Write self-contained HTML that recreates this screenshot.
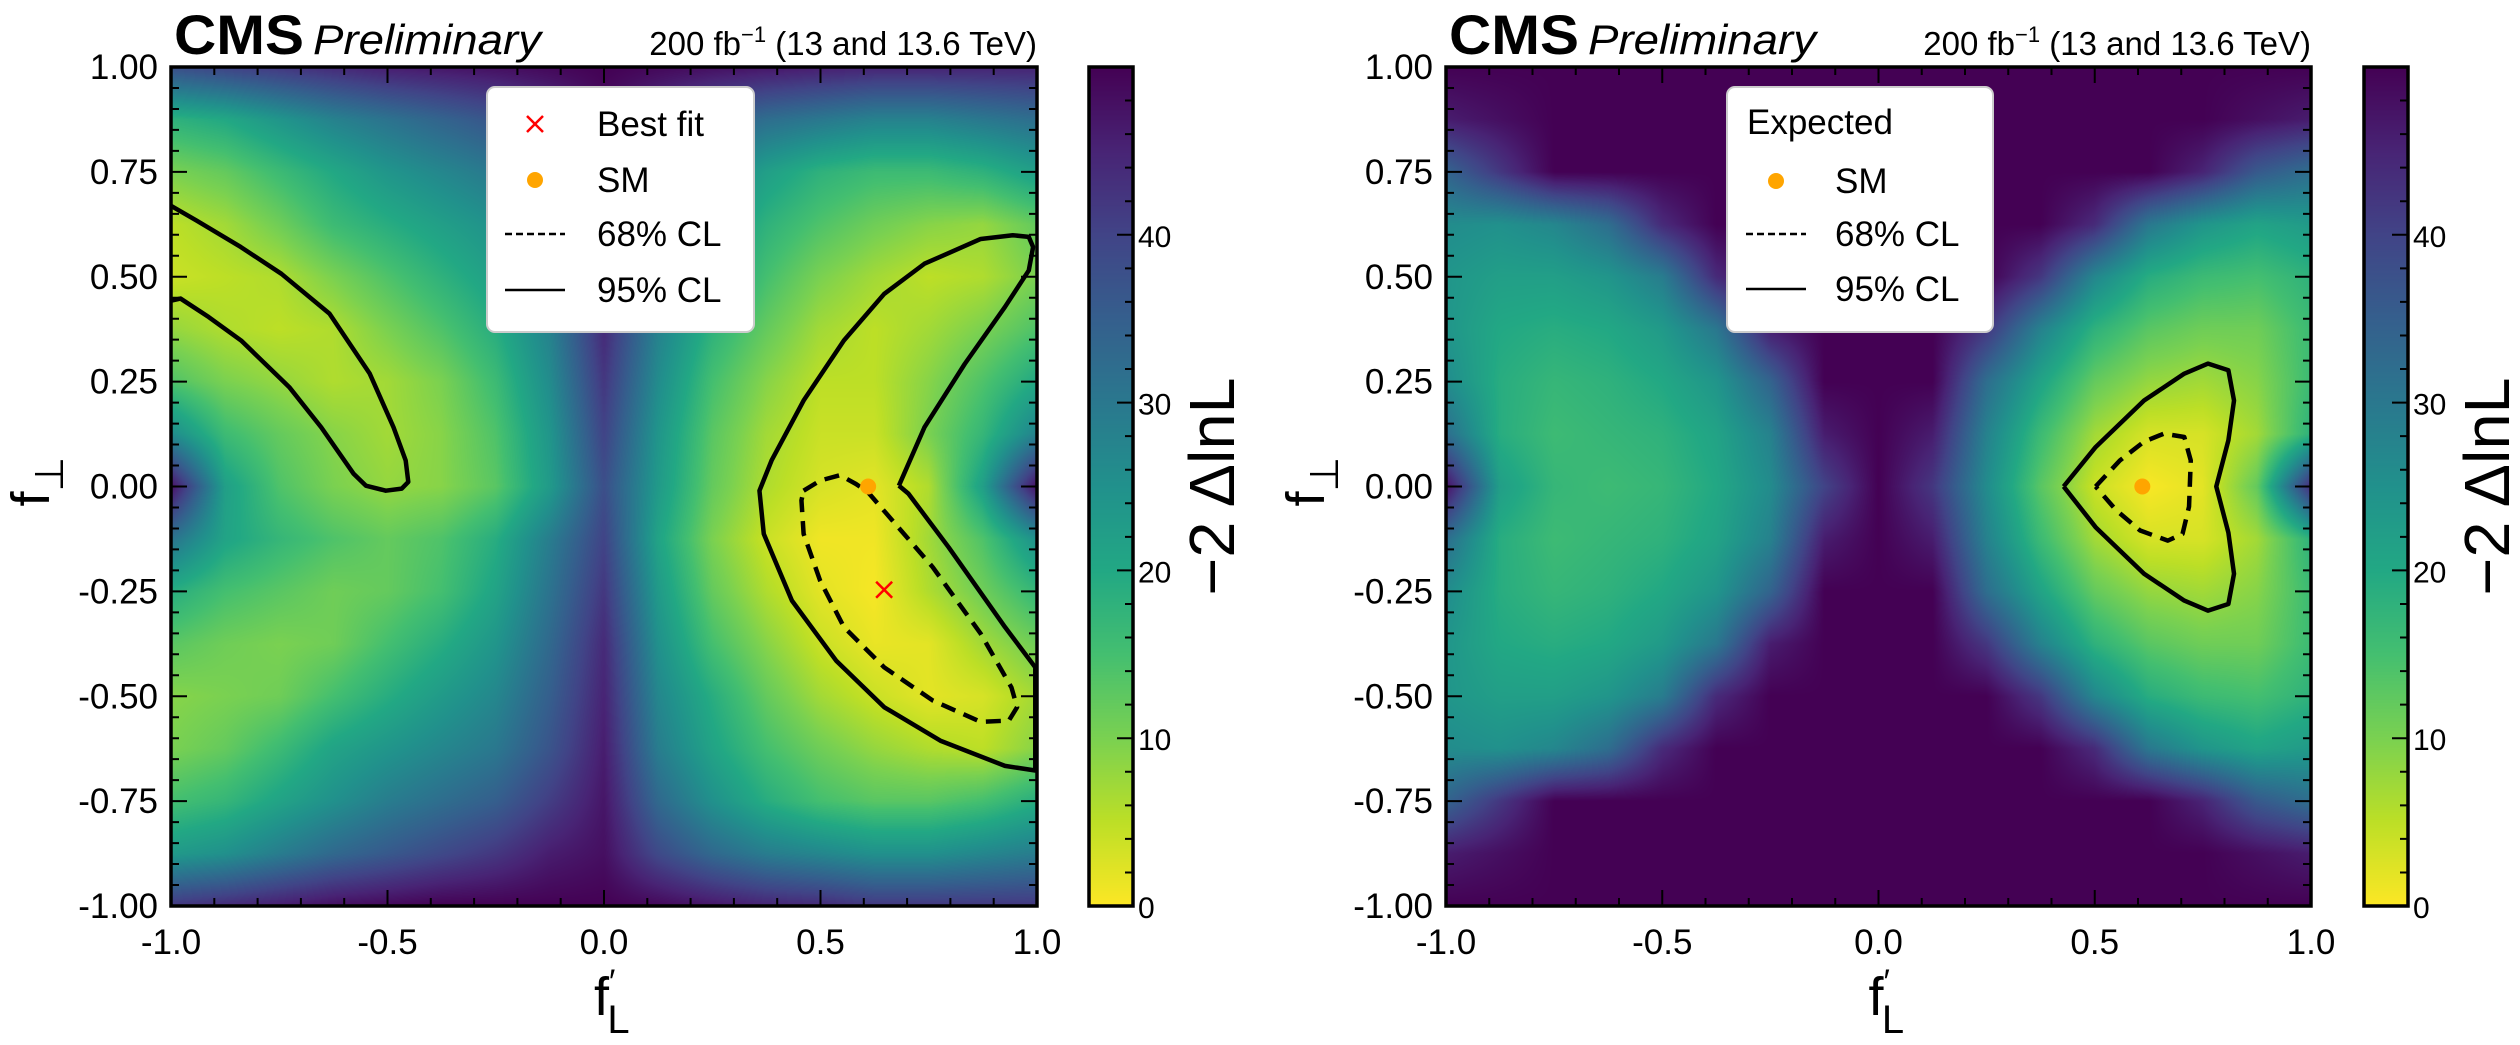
<!DOCTYPE html>
<html><head><meta charset="utf-8">
<style>
html,body{margin:0;padding:0;background:#fff;}
#wrap{position:relative;width:2520px;height:1045px;overflow:hidden;}
canvas{position:absolute;}
svg{position:absolute;left:0;top:0;}
text{font-family:"Liberation Sans",sans-serif;fill:#000;}
</style></head>
<body>
<div id="wrap">
<canvas id="heatL" style="left:171px;top:67px" width="866" height="839"></canvas>
<canvas id="heatR" style="left:1446px;top:67px" width="865" height="839"></canvas>
<canvas id="cbL" style="left:1089px;top:67px" width="44" height="839"></canvas>
<canvas id="cbR" style="left:2364px;top:67px" width="44" height="839"></canvas>
<svg id="ov" width="2520" height="1045"></svg>
</div>
<script>
// ---- data ----
const gridX = [-1,-0.875,-0.75,-0.625,-0.5,-0.375,-0.25,-0.125,0,0.125,0.25,0.375,0.5,0.625,0.75,0.875,1];
const gridY = [1,0.875,0.75,0.625,0.5,0.375,0.25,0.125,0,-0.125,-0.25,-0.375,-0.5,-0.625,-0.75,-0.875,-1];
const obsValues = [
[38,40,42,44,46,47,48,49,50,49,48,47,46,45,45,45,45],
[18,20,24,28,31,34,37,42,48,42,36,32,30,28,28,30,32],
[10,12,16,20,24,27,30,36,47,36,28,22,18,16,16,18,22],
[5,7,11,16,19,22,25,32,46,32,24,18,14,11,9,8,12],
[4,5,6,10,14,18,22,30,45,30,22,15,10,7,5,6,10],
[8,6,5,6,10,14,19,28,44,28,18,12,7,5,7,10,14],
[14,10,8,6,7,10,16,26,42,26,15,9,5,5,9,14,20],
[26,16,12,9,7,9,14,24,40,24,13,7,4,4,10,17,28],
[48,22,14,10,8,9,13,23,38,23,12,6,3,2,6,22,48],
[31,21,17,14,12,14,19,29,40,21,10,4,1,1,7,14,25],
[19,15,13,11,12,15,21,31,42,23,12,6,2,0.5,6,11,17],
[13,11,10,11,15,19,24,33,44,25,15,9,4,1.5,2,7,11],
[9,10,11,15,19,23,27,35,45,27,19,12,7,4,2,3,7],
[10,12,16,21,24,27,30,37,46,29,21,15,11,8,6,5,9],
[15,17,21,25,29,32,35,41,47,33,25,19,15,13,13,15,19],
[23,25,29,33,36,39,42,46,48,39,33,29,27,25,25,27,29],
[42,44,46,48,49,50,50,50,50,49,47,45,44,42,42,42,42]];
const expValues = [
[50,50,50,50,50,50,50,50,50,50,50,50,50,50,50,50,50],
[46,48,50,50,50,50,50,50,50,50,50,50,50,50,50,48,46],
[34,42,50,50,50,50,50,50,50,50,50,50,50,50,45,36,32],
[26,25,27,32,44,50,50,50,50,50,50,50,44,30,24,21,23],
[24,22,22,24,29,44,50,50,50,50,50,42,27,19,16,15,18],
[24,20,19,20,23,30,46,50,50,50,42,28,18,13,11,11,16],
[26,19,17,18,20,24,34,50,50,50,32,21,12,8,7,9,16],
[32,19,16,17,18,21,28,46,50,46,28,16,7,3,3,7,18],
[48,22,17,16,17,20,26,40,50,42,26,13,4,0.3,2,12,44],
[32,19,16,17,18,21,28,46,50,46,28,16,7,3,3,7,18],
[26,19,17,18,20,24,34,50,50,50,32,21,12,8,7,9,16],
[24,20,19,20,23,30,46,50,50,50,42,28,18,13,11,11,16],
[24,22,22,24,29,44,50,50,50,50,50,42,27,19,16,15,18],
[26,25,27,32,44,50,50,50,50,50,50,50,44,30,24,21,23],
[34,42,50,50,50,50,50,50,50,50,50,50,50,50,45,36,32],
[46,48,50,50,50,50,50,50,50,50,50,50,50,50,50,48,46],
[50,50,50,50,50,50,50,50,50,50,50,50,50,50,50,50,50]];
const obs95a = [[-1,0.669],[-0.941,0.634],[-0.839,0.571],[-0.745,0.507],[-0.634,0.412],[-0.541,0.269],[-0.486,0.141],[-0.458,0.062],[-0.452,0.011],[-0.467,-0.005],[-0.504,-0.01],[-0.55,0.002],[-0.578,0.03],[-0.653,0.141],[-0.727,0.237],[-0.838,0.348],[-0.913,0.404],[-0.978,0.448],[-1,0.443]];
const obs95b = [[0.681,0.002],[0.74,0.141],[0.833,0.292],[0.926,0.428],[0.981,0.515],[0.991,0.571],[0.981,0.595],[0.944,0.599],[0.87,0.59],[0.74,0.531],[0.647,0.459],[0.554,0.348],[0.461,0.205],[0.387,0.062],[0.359,-0.01],[0.369,-0.113],[0.434,-0.272],[0.536,-0.415],[0.647,-0.526],[0.777,-0.606],[0.926,-0.666],[0.996,-0.677],[0.996,-0.431],[0.926,-0.335],[0.796,-0.145],[0.703,-0.017],[0.681,0.002]];
const obs68 = [[0.461,-0.01],[0.499,0.014],[0.545,0.027],[0.582,0.006],[0.61,-0.014],[0.666,-0.081],[0.759,-0.192],[0.87,-0.351],[0.941,-0.479],[0.954,-0.526],[0.935,-0.558],[0.87,-0.561],[0.759,-0.51],[0.647,-0.431],[0.554,-0.335],[0.499,-0.224],[0.461,-0.113],[0.456,-0.033],[0.461,-0.01]];
const exp95 = [[0.428,0],[0.502,0.094],[0.614,0.205],[0.707,0.269],[0.762,0.293],[0.809,0.277],[0.822,0.205],[0.809,0.11],[0.781,0],[0.809,-0.11],[0.822,-0.208],[0.809,-0.28],[0.762,-0.296],[0.707,-0.272],[0.614,-0.208],[0.502,-0.097],[0.428,0]];
const exp68 = [[0.502,0],[0.558,0.062],[0.614,0.107],[0.66,0.126],[0.707,0.118],[0.722,0.062],[0.718,-0.048],[0.703,-0.113],[0.669,-0.129],[0.605,-0.105],[0.549,-0.056],[0.502,0]];
const bestFit = [0.647,-0.246];
const smPoint = [0.61,0];
const xTickLabels = ["-1.0","-0.5","0.0","0.5","1.0"];
const yTickLabels = ["1.00","0.75","0.50","0.25","0.00","-0.25","-0.50","-0.75","-1.00"];
const cbTickLabels = ["0","10","20","30","40"];
const zMax = 50;

// ---- helpers ----
const vir = [[68,1,84],[72,36,117],[65,68,135],[53,95,141],[42,120,142],[33,145,140],[34,168,132],[68,191,112],[122,209,81],[189,223,38],[253,231,37]];
function cmap(v){let t=1-Math.max(0,Math.min(zMax,v))/zMax;let f=t*10,i=Math.min(9,Math.floor(f)),r=f-i;const a=vir[i],b=vir[i+1];return [a[0]+(b[0]-a[0])*r,a[1]+(b[1]-a[1])*r,a[2]+(b[2]-a[2])*r];}
function drawHeat(id,vals){const c=document.getElementById(id),ctx=c.getContext('2d'),w=c.width,h=c.height,img=ctx.createImageData(w,h);
 const nx=gridX.length-1,ny=gridY.length-1;
 for(let py=0;py<h;py++){const yd=1-2*(py+0.5)/h;const gy=(gridY[0]-yd)/(gridY[0]-gridY[ny])*ny;let j=Math.min(ny-1,Math.floor(gy)),ry=gy-j;
  for(let px=0;px<w;px++){const xd=-1+2*(px+0.5)/w;const gx=(xd-gridX[0])/(gridX[nx]-gridX[0])*nx;let i=Math.min(nx-1,Math.floor(gx)),rx=gx-i;
   const v=vals[j][i]*(1-rx)*(1-ry)+vals[j][i+1]*rx*(1-ry)+vals[j+1][i]*(1-rx)*ry+vals[j+1][i+1]*rx*ry;
   const col=cmap(v),k=(py*w+px)*4;img.data[k]=col[0];img.data[k+1]=col[1];img.data[k+2]=col[2];img.data[k+3]=255;}}
 ctx.putImageData(img,0,0);}
function drawCb(id){const c=document.getElementById(id),ctx=c.getContext('2d');for(let py=0;py<c.height;py++){const v=zMax*(1-(py+0.5)/c.height);const col=cmap(v);ctx.fillStyle='rgb('+col.map(Math.round).join(',')+')';ctx.fillRect(0,py,c.width,1);}}
drawHeat('heatL',obsValues);drawHeat('heatR',expValues);drawCb('cbL');drawCb('cbR');

const NS='http://www.w3.org/2000/svg',svg=document.getElementById('ov');
function el(tag,attrs,parent){const e=document.createElementNS(NS,tag);for(const k in attrs)e.setAttribute(k,attrs[k]);(parent||svg).appendChild(e);return e;}

function panel(P){
 const g=el('g',{});
 
 
 const sx=x=>P.x0+(x+1)/2*(P.x1-P.x0), sy=y=>P.y1-(y+1)/2*(P.y1-P.y0);
 const cy=v=>P.y1-v/zMax*(P.y1-P.y0);
 P.contours.forEach(c=>{const p=el('polyline',{points:c.pts.map(q=>sx(q[0])+','+sy(q[1])).join(' '),fill:'none',stroke:'#000','stroke-width':4.5,'stroke-linejoin':'round','stroke-dasharray':c.dash?'15,9':'none'},g);
  
  });
 if(P.best){const bx=sx(P.best[0]),by=sy(P.best[1]);const b=el('path',{d:`M${bx-8},${by-8}L${bx+8},${by+8}M${bx-8},${by+8}L${bx+8},${by-8}`,stroke:'#f00','stroke-width':2.5},g);
  
  }
 const sm=el('circle',{cx:sx(P.sm[0]),cy:sy(P.sm[1]),r:8,fill:'#ffa500'},g);
 
 
 el('rect',{x:P.x0,y:P.y0,width:P.x1-P.x0,height:P.y1-P.y0,fill:'none',stroke:'#000','stroke-width':3.5},g);
 let d='';
 for(let k=0;k<=20;k++){const x=sx(-1+k*0.1),L=(k%5==0)?16:8;d+=`M${x},${P.y1}v${-L}M${x},${P.y0}v${L}`;}
 for(let k=0;k<=40;k++){const y=sy(-1+k*0.05),L=(k%5==0)?16:8;d+=`M${P.x0},${y}h${L}M${P.x1},${y}h${-L}`;}
 el('path',{d:d,stroke:'#000','stroke-width':2,fill:'none'},g);
 xTickLabels.forEach((t,i)=>{const tx=el('text',{x:sx(-1+i*0.5),y:P.y1+48,'font-size':35,'text-anchor':'middle'},g);tx.textContent=t;
  
  });
 yTickLabels.forEach((t,i)=>{const tx=el('text',{x:P.x0-13,y:sy(1-i*0.25)+12,'font-size':35,'text-anchor':'end'},g);tx.textContent=t;
  
  });
 el('rect',{x:P.cb,y:P.y0,width:44,height:P.y1-P.y0,fill:'none',stroke:'#000','stroke-width':3.5},g);
 let cd='';for(let v=0;v<=48;v+=2){const L=(v%10==0)?16:8;cd+=`M${P.cb+44},${cy(v)}h${-L}`;}
 el('path',{d:cd,stroke:'#000','stroke-width':2},g);
 cbTickLabels.forEach((t,i)=>{const tx=el('text',{x:P.cb+49,y:cy(i*10)+12,'font-size':30},g);tx.textContent=t;
  
  });
 const cl=el('text',{x:0,y:0,'font-size':64,'text-anchor':'middle',transform:`translate(${P.cb+145},${(P.y0+P.y1)/2}) rotate(-90)`,textLength:218,lengthAdjust:'spacingAndGlyphs'},g);cl.textContent='−2 ΔlnL';
 
 
 const cms=el('text',{x:P.x0+3,y:54,'font-size':56,'font-weight':'bold',textLength:130,lengthAdjust:'spacingAndGlyphs'},g);cms.textContent='CMS';
 
 
 const pre=el('text',{x:P.x0+142,y:54,'font-size':42,'font-style':'italic',textLength:228,lengthAdjust:'spacingAndGlyphs'},g);pre.textContent='Preliminary';
 
 
 const lu=el('text',{x:P.x1,y:55,'font-size':33,'text-anchor':'end'},g);
 lu.innerHTML='200 fb<tspan dy="-13" font-size="22">−1</tspan><tspan dy="13"> (13 and 13.6 TeV)</tspan>';
 
 
 const xl=el('text',{x:(P.x0+P.x1)/2-10,y:1015,'font-size':54},g);
 xl.innerHTML='f<tspan dy="-22" font-size="34">′</tspan><tspan dx="-8" dy="40" font-size="40">L</tspan>';
 
 
 const yl=el('text',{x:0,y:0,'font-size':54,transform:`translate(${P.x0-122},${(P.y0+P.y1)/2+20}) rotate(-90)`},g);
 yl.innerHTML='f<tspan dy="14" font-size="40">⊥</tspan>';
 
 
 const L=P.leg;
 const lg=el('g',{},g);
 
 
 el('rect',{x:L.x,y:87,width:L.w,height:245,rx:8,fill:'#fff',stroke:'#ccc','stroke-width':2},lg);
 L.rows.forEach(r=>{
  if(r.kind=='x'){el('path',{d:`M${L.mx-8},${r.y-8}L${L.mx+8},${r.y+8}M${L.mx-8},${r.y+8}L${L.mx+8},${r.y-8}`,stroke:'#f00','stroke-width':2.5},lg);}
  if(r.kind=='o'){el('circle',{cx:L.mx,cy:r.y,r:8,fill:'#ffa500'},lg);}
  if(r.kind=='d'){el('line',{x1:L.mx-30,x2:L.mx+30,y1:r.y,y2:r.y,stroke:'#000','stroke-width':2.5,'stroke-dasharray':'7,4'},lg);}
  if(r.kind=='s'){el('line',{x1:L.mx-30,x2:L.mx+30,y1:r.y,y2:r.y,stroke:'#000','stroke-width':2.5},lg);}
  const t=el('text',{x:r.kind=='t'?L.x+20:L.tx,y:r.y+12,'font-size':35},lg);t.textContent=r.label;
  
  
 });
}
panel({name:'observed-panel',x0:171,x1:1037,y0:67,y1:906,cb:1089,sm:smPoint,best:bestFit,
 contours:[{pts:obs95a,name:'obs-95cl-left'},{pts:obs95b,name:'obs-95cl-right'},{pts:obs68,dash:true,name:'obs-68cl'}],
 leg:{x:487,w:267,mx:535,tx:597,rows:[{kind:'x',y:124,label:'Best fit'},{kind:'o',y:180,label:'SM'},{kind:'d',y:234,label:'68% CL'},{kind:'s',y:290,label:'95% CL'}]}});
panel({name:'expected-panel',x0:1446,x1:2311,y0:67,y1:906,cb:2364,sm:smPoint,best:null,
 contours:[{pts:exp95,name:'exp-95cl'},{pts:exp68,dash:true,name:'exp-68cl'}],
 leg:{x:1727,w:266,mx:1776,tx:1835,rows:[{kind:'t',y:122,label:'Expected'},{kind:'o',y:181,label:'SM'},{kind:'d',y:234,label:'68% CL'},{kind:'s',y:289,label:'95% CL'}]}});
</script>
</body></html>
